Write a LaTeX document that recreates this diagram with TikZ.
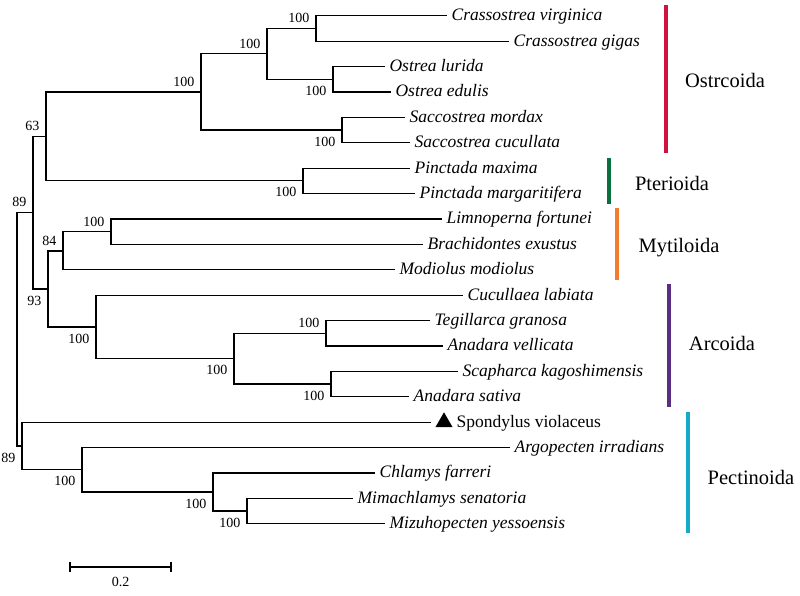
\documentclass[tikz,border=0pt]{standalone}
\usepackage{fontspec}
\setmainfont{Liberation Serif}
\usetikzlibrary{shapes.geometric,positioning}
\definecolor{ostrred}{RGB}{208,18,62}
\definecolor{pterigreen}{RGB}{10,112,62}
\definecolor{mytiorange}{RGB}{240,124,44}
\definecolor{arcopurple}{RGB}{92,46,130}
\definecolor{pectcyan}{RGB}{22,170,200}

\begin{document}
\begin{tikzpicture}[x=1pt,y=-1pt,line width=1.2pt,
  sp/.style={anchor=west,inner xsep=4pt,inner ysep=0pt,text height=12pt,text depth=2pt,
    font=\fontsize{17.5}{20}\selectfont\itshape},
  bsa/.style={anchor=south east,inner sep=2pt,xshift=-4pt,yshift=3pt,text height=9.5pt,
    text depth=0pt,font=\fontsize{14}{16}\selectfont},
  bsb/.style={bsa,anchor=north east,yshift=-7pt},
  clade/.style={font=\fontsize{20.5}{24}\selectfont},
  bar/.style={line width=4pt}]
\useasboundingbox (0,0) rectangle (800,595);

% internal nodes
\coordinate (root) at (17,329);
\coordinate (A) at (33,212.5);
\coordinate (B) at (46,136.3);
\coordinate (O) at (201,91.9);
\coordinate (O1) at (267,53.8);
\coordinate (Cr) at (316,28.4);
\coordinate (Os) at (333,79.2);
\coordinate (S) at (342,130);
\coordinate (Pt) at (303,180.8);
\coordinate (C) at (48,289);
\coordinate (My) at (63,251);
\coordinate (LB) at (111,231.6);
\coordinate (Ar) at (96,326.9);
\coordinate (AA) at (234,358.6);
\coordinate (TA) at (326,333.2);
\coordinate (SA) at (331,384);
\coordinate (P) at (22,445.9);
\coordinate (Q) at (82,469.7);
\coordinate (R) at (213,492);
\coordinate (MZ) at (247,511);

% leaves
\node[sp] (cvir) at (447,15.7) {Crassostrea virginica};
\node[sp] (cgig) at (509,41.1) {Crassostrea gigas};
\node[sp] (olur) at (385,66.5) {Ostrea lurida};
\node[sp] (oedu) at (391,91.9) {Ostrea edulis};
\node[sp] (smor) at (405,117.3) {Saccostrea mordax};
\node[sp] (scuc) at (410,142.7) {Saccostrea cucullata};
\node[sp] (pmax) at (410,168.1) {Pinctada maxima};
\node[sp] (pmar) at (415,193.5) {Pinctada margaritifera};
\node[sp] (lfor) at (442,218.9) {Limnoperna fortunei};
\node[sp] (bexu) at (423,244.3) {Brachidontes exustus};
\node[sp] (mmod) at (395,269.7) {Modiolus modiolus};
\node[sp] (clab) at (463,295.1) {Cucullaea labiata};
\node[sp] (tgra) at (430,320.5) {Tegillarca granosa};
\node[sp] (avel) at (443,345.9) {Anadara vellicata};
\node[sp] (skag) at (458,371.3) {Scapharca kagoshimensis};
\node[sp] (asat) at (409,396.7) {Anadara sativa};
\coordinate (sviol) at (431,422.1);
\node[regular polygon,regular polygon sides=3,fill=black,inner sep=0pt,minimum size=19.6pt,
  line width=0pt,anchor=center] (svmark) at (444,422.1) {};
\node[sp,font=\fontsize{17.5}{20}\selectfont,inner xsep=0pt] (svname) at (456,422.1) {Spondylus violaceus};
\node[sp] (airr) at (510,447.5) {Argopecten irradians};
\node[sp] (cfar) at (375,472.9) {Chlamys farreri};
\node[sp] (msen) at (353,498.3) {Mimachlamys senatoria};
\node[sp] (myes) at (385,523.7) {Mizuhopecten yessoensis};

% branches
\draw (root) |- (A);
\draw (root) |- (P);
\draw (A) |- (B);
\draw (A) |- (C);
\draw (B) |- (O);
\draw (B) |- (Pt);
\draw (O) |- (O1);
\draw (O) |- (S);
\draw (O1) |- (Cr);
\draw (O1) |- (Os);
\draw (Cr) |- (cvir.west);
\draw (Cr) |- (cgig.west);
\draw (Os) |- (olur.west);
\draw (Os) |- (oedu.west);
\draw (S) |- (smor.west);
\draw (S) |- (scuc.west);
\draw (Pt) |- (pmax.west);
\draw (Pt) |- (pmar.west);
\draw (C) |- (My);
\draw (C) |- (Ar);
\draw (My) |- (LB);
\draw (My) |- (mmod.west);
\draw (LB) |- (lfor.west);
\draw (LB) |- (bexu.west);
\draw (Ar) |- (clab.west);
\draw (Ar) |- (AA);
\draw (AA) |- (TA);
\draw (AA) |- (SA);
\draw (TA) |- (tgra.west);
\draw (TA) |- (avel.west);
\draw (SA) |- (skag.west);
\draw (SA) |- (asat.west);
\draw (P) |- (sviol);
\draw (P) |- (Q);
\draw (Q) |- (airr.west);
\draw (Q) |- (R);
\draw (R) |- (cfar.west);
\draw (R) |- (MZ);
\draw (MZ) |- (msen.west);
\draw (MZ) |- (myes.west);

% bootstrap values
\node[bsa] (bCr) at (Cr) {100};
\node[bsa] (bO1) at (O1) {100};
\node[bsa] (bO) at (O) {100};
\node[bsb] (bOs) at (Os) {100};
\node[bsb] (bS) at (S) {100};
\node[bsa] (bB) at (B) {63};
\node[bsb] (bPt) at (Pt) {100};
\node[bsa] (bA) at (A) {89};
\node[bsa] (bLB) at (LB) {100};
\node[bsa] (bMy) at (My) {84};
\node[bsb] (bC) at (C) {93};
\node[bsb] (bAr) at (Ar) {100};
\node[bsb] (bAA) at (AA) {100};
\node[bsa] (bTA) at (TA) {100};
\node[bsb] (bSA) at (SA) {100};
\node[bsb] (bP) at (P) {89};
\node[bsb] (bQ) at (Q) {100};
\node[bsb] (bR) at (R) {100};
\node[bsb] (bMZ) at (MZ) {100};

% clades
\draw[bar,ostrred] (666,5) -- (666,153);
\node[clade] (ostr) at (725,80) {Ostrcoida};
\draw[bar,pterigreen] (609,158) -- (609,204);
\node[clade] (pter) at (672,183) {Pterioida};
\draw[bar,mytiorange] (617,208) -- (617,280);
\node[clade] (myti) at (679,248) {Mytiloida};
\draw[bar,arcopurple] (669,284) -- (669,407);
\node[clade] (arco) at (722,343) {Arcoida};
\draw[bar,pectcyan] (688,412) -- (688,533);
\node[clade] (pect) at (751,477) {Pectinoida};

% scale bar
\draw (70,567) -- (171,567);
\draw (70,562) -- (70,572);
\draw (171,562) -- (171,572);
\node[font=\fontsize{14}{16}\selectfont] (scale) at (120.5,582) {0.2};
\end{tikzpicture}
\end{document}
